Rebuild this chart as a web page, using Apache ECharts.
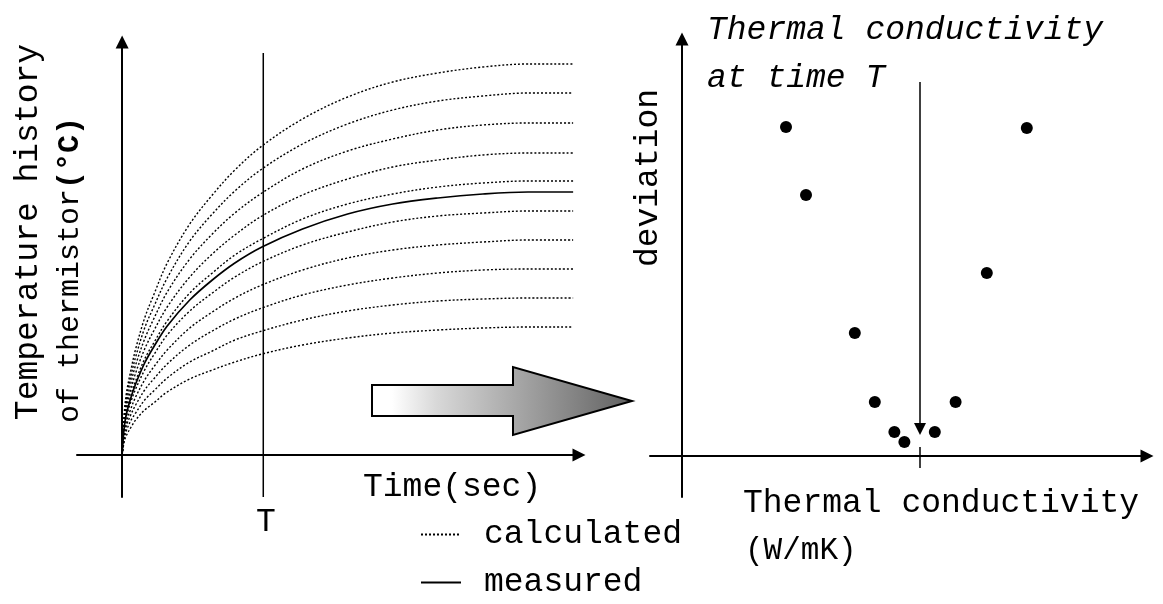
<!DOCTYPE html>
<html>
<head>
<meta charset="utf-8">
<title>Thermal conductivity from temperature history</title>
<script src="https://cdn.jsdelivr.net/npm/echarts@6.0.0/dist/echarts.min.js"></script>
<style>
    html, body { margin: 0; padding: 0; background: #fff; }
    #main { width: 1163px; height: 604px; }
</style>
</head>
<body>
<div id="main"></div>
<script>
    // left panel: time samples and temperature curves (arbitrary units)
    const timeSec = [0, 0.5, 1, 2, 3, 5, 7, 10, 15, 20, 25, 31, 40, 50, 60, 70, 80, 90, 100];

    const calc1  = [0, 43, 63, 86, 106, 137, 160, 192, 231, 260, 285, 309, 336, 358, 373, 382, 388, 391, 391];
    const calc2  = [0, 40, 58, 80, 98, 127, 148, 177, 214, 241, 264, 286, 311, 331, 345, 354, 359, 362, 362];
    const calc3  = [0, 37, 53, 73, 90, 116, 136, 163, 196, 221, 242, 262, 286, 304, 316, 325, 330, 332, 332];
    const calc4  = [0, 33, 48, 66, 82, 106, 124, 148, 178, 201, 220, 239, 260, 276, 288, 295, 300, 302, 302];
    const calc5  = [0, 30, 44, 60, 74, 96, 112, 134, 162, 182, 200, 216, 236, 251, 261, 268, 272, 274, 274];
    const calc6  = [0, 27, 39, 54, 66, 85, 100, 120, 144, 162, 178, 193, 210, 223, 233, 239, 242, 244, 244];
    const calc7  = [0, 24, 34, 47, 58, 75, 88, 105, 127, 143, 157, 170, 185, 197, 205, 210, 213, 215, 215];
    const calc8  = [0, 20, 30, 41, 50, 65, 76, 91, 110, 124, 136, 147, 160, 170, 177, 182, 185, 186, 186];
    const calc9  = [0, 17, 25, 35, 42, 55, 64, 77, 93, 104, 115, 124, 135, 144, 150, 154, 156, 157, 157];
    const calc10 = [0, 14, 20, 28, 35, 45, 52, 63, 76, 85, 93, 101, 110, 117, 122, 125, 127, 128, 128];
    const measured = [0, 29, 42, 58, 71, 92, 108, 129, 155, 175, 192, 208, 226, 241, 251, 257, 261, 263, 263];

    const timeT = 31.3;
    const tLineRange = [-42, 402];

    // right panel: deviation vs thermal conductivity
    const conductivity = [26, 31, 43.2, 48.2, 53.1, 55.6, 63.2, 68.4, 76.2, 86.2];
    const deviation = [329, 261, 123, 54, 24, 14, 24, 54, 183, 328];

    const bestConductivity = 59.5;
    const bestArrowRange = [374, 27];
    const bestTickRange = [9, -12];

    const FONT = '"Liberation Mono", "DejaVu Sans Mono", monospace';

    let myChart = echarts.init(document.getElementById('main'), null, { renderer: 'canvas' });

    const calculatedCurves = [calc1, calc2, calc3, calc4, calc5, calc6, calc7, calc8, calc9, calc10];

    function pairs(xs, ys) {
        return xs.map(function (x, i) { return [x, ys[i]]; });
    }

    const axisLineStyle = { color: '#000', width: 2 };

    let series = calculatedCurves.map(function (curve) {
        return {
            name: 'calculated',
            type: 'line',
            xAxisIndex: 0,
            yAxisIndex: 0,
            data: pairs(timeSec, curve),
            smooth: 0.35,
            symbol: 'none',
            color: '#000',
            lineStyle: { color: '#000', width: 1.4, type: [2, 2] },
            z: 3
        };
    });

    series.push({
        name: 'measured',
        type: 'line',
        xAxisIndex: 0,
        yAxisIndex: 0,
        data: pairs(timeSec, measured),
        smooth: 0.35,
        symbol: 'none',
        color: '#000',
        lineStyle: { color: '#000', width: 1.7, type: 'solid' },
        z: 4
    });

    // vertical line at time T
    series.push({
        name: 'T',
        type: 'line',
        xAxisIndex: 0,
        yAxisIndex: 0,
        data: [[timeT, tLineRange[0]], [timeT, tLineRange[1]]],
        symbol: 'none',
        lineStyle: { color: '#000', width: 1.5 },
        z: 5
    });

    series.push({
        name: 'deviation',
        type: 'scatter',
        xAxisIndex: 1,
        yAxisIndex: 1,
        data: pairs(conductivity, deviation),
        symbol: 'circle',
        symbolSize: 12,
        itemStyle: { color: '#000', opacity: 1 },
        markLine: {
            silent: true,
            animation: false,
            symbol: ['none', 'triangle'],
            symbolSize: [12, 12],
            label: { show: false },
            lineStyle: { color: '#000', width: 1.5, type: 'solid' },
            data: [
                [{ coord: [bestConductivity, bestArrowRange[0]] }, { coord: [bestConductivity, bestArrowRange[1]] }],
                [{ coord: [bestConductivity, bestTickRange[0]], symbol: 'none' },
                 { coord: [bestConductivity, bestTickRange[1]], symbol: 'none' }]
            ]
        }
    });

    function textEl(x, y, text, opts) {
        opts = opts || {};
        return {
            type: 'text',
            x: x,
            y: y,
            rotation: opts.rotation || 0,
            z: 10,
            style: {
                text: text,
                fontFamily: FONT,
                fontSize: opts.size || 33,
                fontStyle: opts.italic ? 'italic' : 'normal',
                fill: '#000',
                align: opts.align || 'left',
                verticalAlign: 'middle',
                rich: opts.rich
            }
        };
    }

    function legendRow(name, top) {
        return {
            data: [name],
            left: 420,
            top: top,
            padding: 0,
            itemWidth: 40,
            itemHeight: 14,
            selectedMode: false,
            itemStyle: { opacity: 0 },
            textStyle: { fontFamily: FONT, fontSize: 33, color: '#000', lineHeight: 30, padding: [0, 0, 0, 18] }
        };
    }

    let option = {
        animation: false,
        backgroundColor: '#fff',
        grid: [
            { left: 77, right: 584, top: 42, bottom: 107 },
            { left: 650, right: 16, top: 39, bottom: 107 }
        ],
        xAxis: [
            {
                type: 'value', gridIndex: 0, min: -10, max: 101.3,
                axisLine: { onZero: true, lineStyle: axisLineStyle, symbol: ['none', 'triangle'], symbolSize: [13, 13] },
                axisTick: { show: false }, axisLabel: { show: false }, splitLine: { show: false }
            },
            {
                type: 'value', gridIndex: 1, min: -8, max: 116.25,
                axisLine: { onZero: true, lineStyle: axisLineStyle, symbol: ['none', 'triangle'], symbolSize: [13, 13] },
                axisTick: { show: false }, axisLabel: { show: false }, splitLine: { show: false }
            }
        ],
        yAxis: [
            {
                type: 'value', gridIndex: 0, min: -42, max: 413,
                axisLine: { show: true, onZero: true, lineStyle: axisLineStyle, symbol: ['none', 'triangle'], symbolSize: [13, 13] },
                axisTick: { show: false }, axisLabel: { show: false }, splitLine: { show: false }
            },
            {
                type: 'value', gridIndex: 1, min: -41, max: 417,
                axisLine: { show: true, onZero: true, lineStyle: axisLineStyle, symbol: ['none', 'triangle'], symbolSize: [13, 13] },
                axisTick: { show: false }, axisLabel: { show: false }, splitLine: { show: false }
            }
        ],
        legend: [
            legendRow('calculated', 518),
            legendRow('measured', 566)
        ],
        graphic: [
            textEl(28, 232, 'Temperature history', { rotation: Math.PI / 2, align: 'center' }),
            textEl(70, 270, '{a|of thermistor}{b|(°C)}', {
                rotation: Math.PI / 2, align: 'center',
                rich: {
                    a: { fontFamily: FONT, fontSize: 30 },
                    b: { fontFamily: FONT, fontSize: 30, fontWeight: 'bold' }
                }
            }),
            textEl(363, 487, 'Time(sec)'),
            textEl(266, 522, 'T', { align: 'center' }),
            textEl(707, 30, 'Thermal conductivity', { italic: true }),
            textEl(707, 78, 'at time T', { italic: true }),
            textEl(648, 178, 'deviation', { rotation: Math.PI / 2, align: 'center' }),
            textEl(743, 503, 'Thermal conductivity'),
            textEl(745, 551, '(W/mK)', { size: 31 }),
            {
                type: 'polygon',
                z: 8,
                shape: {
                    points: [[372, 385], [513, 385], [513, 367], [632, 401], [513, 435], [513, 416], [372, 416]]
                },
                style: {
                    fill: new echarts.graphic.LinearGradient(0, 0, 1, 0, [
                        { offset: 0, color: '#ffffff' },
                        { offset: 0.08, color: '#ffffff' },
                        { offset: 0.25, color: '#d8d8d8' },
                        { offset: 0.55, color: '#a8a8a8' },
                        { offset: 1, color: '#606060' }
                    ]),
                    stroke: '#000',
                    lineWidth: 2
                }
            }
        ],
        series: series
    };

    myChart.setOption(option, true);
</script>
</body>
</html>
